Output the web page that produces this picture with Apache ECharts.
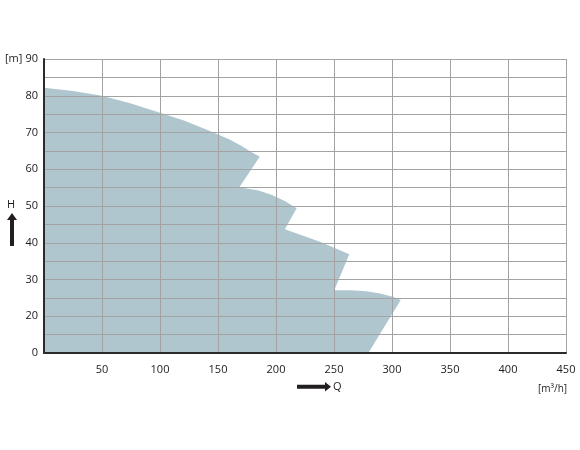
<!DOCTYPE html>
<html>
<head>
<meta charset="utf-8">
<script src="https://cdn.jsdelivr.net/npm/echarts@6/dist/echarts.min.js"></script>
<style>html,body{margin:0;padding:0;background:#fff}#c{width:580px;height:450px}</style>
</head>
<body>
<div id="c"></div>
<script>
// Operating range boundary (Q in m3/h, H in m), traced clockwise
const boundaryQ = [0, 25, 50, 75, 100, 120, 141, 160, 170, 177.6, 186, 168.4, 185, 197, 208, 217.8, 207.7, 237.9, 263.2, 250.2, 263.8, 278, 289.6, 300, 307.5, 279.6, 0];
const boundaryH = [82.2, 81.3, 80, 77.9, 75.4, 73.3, 70.7, 68.1, 66.4, 64.9, 63.4, 55.1, 54.2, 52.9, 51.3, 49.4, 43.7, 40.3, 36.9, 27.1, 27.1, 26.8, 26.2, 25.4, 24.4, 10, 10];
const xTicks = [50, 100, 150, 200, 250, 300, 350, 400, 450];
const yTicks = [0, 20, 30, 40, 50, 60, 70, 80, 90];

const chart = echarts.init(document.getElementById('c'), null, {renderer: 'canvas'});
const pts = boundaryQ.map((q, i) => [q, boundaryH[i]]);
const font = '"Open Sans", "Noto Sans", sans-serif';
const txt = '#1e1a1b';

chart.setOption({
  animation: false,
  grid: {left: 44, right: 14, top: 59, bottom: 97},
  xAxis: {
    type: 'value', min: 0, max: 450, interval: 50,
    axisLine: {show: true, onZero: false, lineStyle: {color: '#2b2b2b', width: 2}},
    axisTick: {show: false},
    splitLine: {show: true, lineStyle: {color: '#a3a3a3', width: 1}},
    axisLabel: {
      color: txt, fontSize: 11, fontFamily: font, margin: 11,
      formatter: v => xTicks.indexOf(v) >= 0 ? String(v) : ''
    }
  },
  yAxis: {
    type: 'value', min: 10, max: 90, interval: 5,
    axisLine: {show: true, onZero: false, lineStyle: {color: '#2b2b2b', width: 2}},
    axisTick: {show: false},
    splitLine: {show: true, lineStyle: {color: '#a3a3a3', width: 1}},
    axisLabel: {
      color: txt, fontSize: 11, fontFamily: font, margin: 6, verticalAlign: 'middle', padding: [2, 0, 0, 0],
      formatter: v => {
        if (v === 10) return String(yTicks[0]);
        return (v % 10 === 0 && yTicks.indexOf(v) >= 0) ? String(v) : '';
      }
    }
  },
  series: [{
    type: 'custom',
    z: -1,
    data: [0],
    renderItem: (params, api) => ({
      type: 'polygon',
      shape: {points: pts.map(p => api.coord(p))},
      style: {fill: '#afc6cf'}
    })
  }],
  graphic: [
    {type: 'text', left: 5, top: 53, style: {text: '[m]', fill: txt, font: '11px ' + font}},
    {type: 'text', left: 7, top: 199, style: {text: 'H', fill: txt, font: '11px ' + font}},
    {type: 'polygon', shape: {points: [[12, 213], [17, 220], [14, 220], [14, 246], [10, 246], [10, 220], [7, 220]]}, style: {fill: '#231f20'}},
    {type: 'polygon', shape: {points: [[297, 384.7], [325, 384.7], [325, 382], [331, 386.7], [325, 391.4], [325, 388.7], [297, 388.7]]}, style: {fill: '#231f20'}},
    {type: 'text', left: 333, top: 381, style: {text: 'Q', fill: txt, font: '11px ' + font}},
    {type: 'text', left: 538, top: 384, style: {text: '[m³/h]', fill: txt, font: '10px ' + font}}
  ]
});
</script>
</body>
</html>
